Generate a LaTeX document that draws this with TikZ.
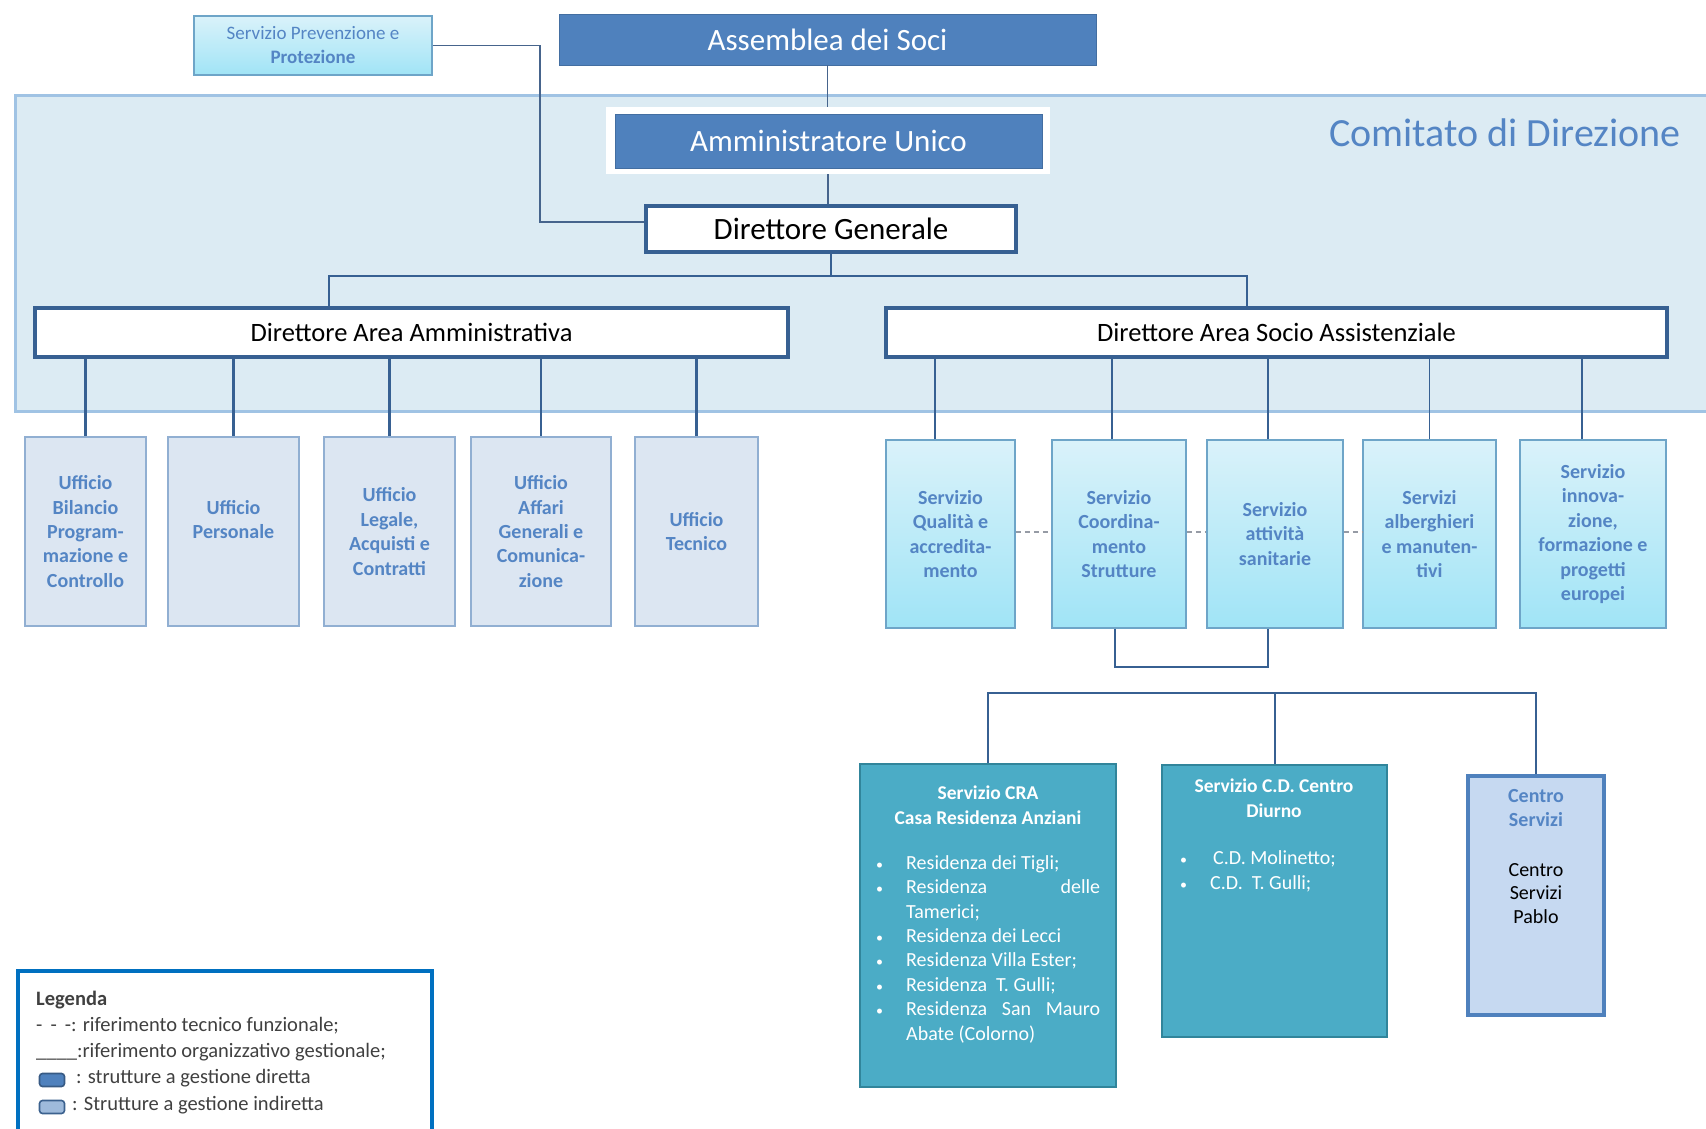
\documentclass[tikz,border=0pt]{standalone}
\usepackage{fontspec}
\setmainfont{Carlito}
\usetikzlibrary{calc}
\definecolor{conn}{RGB}{55,96,146}
\definecolor{thinc}{RGB}{70,100,140}
\definecolor{cdfill}{RGB}{220,235,243}
\definecolor{cdline}{RGB}{160,195,228}
\definecolor{dblue}{RGB}{79,129,189}
\definecolor{txtblue}{RGB}{84,133,196}
\definecolor{ufill}{RGB}{220,230,242}
\definecolor{uline}{RGB}{145,175,210}
\definecolor{svtop}{RGB}{218,242,250}
\definecolor{svbot}{RGB}{160,228,246}
\definecolor{svline}{RGB}{110,165,200}
\definecolor{crateal}{RGB}{75,172,198}
\definecolor{tealline}{RGB}{49,133,155}
\definecolor{csfill}{RGB}{198,217,241}
\definecolor{legline}{RGB}{0,112,192}
\definecolor{dashc}{RGB}{150,155,165}
\definecolor{legtxt}{RGB}{64,64,64}
\newcommand\myblt{\makebox[31pt][l]{\hspace{1pt}{\fontsize{14}{14}\selectfont\textbullet}}}
\newcommand\mybind{\hspace*{31pt}}
\tikzset{
  conn/.style={draw=conn,line width=2.4pt},
  thinconn/.style={draw=thinc,line width=1.5pt},
  topbox/.style={fill=dblue,draw=dblue!85!black,line width=0.8pt,text=white,inner sep=0pt,font=\fontsize{31}{36}\selectfont},
  whitebox/.style={fill=white,draw=conn,line width=3.4pt,inner sep=0pt},
  ufbox/.style={fill=ufill,draw=uline,line width=1.6pt,inner sep=0pt,text=txtblue,align=center,font=\bfseries\fontsize{20}{24.4}\selectfont,minimum height=189pt},
  svbox/.style={top color=svtop,bottom color=svbot,draw=svline,line width=1.6pt,inner sep=0pt,text=txtblue,align=center,font=\bfseries\fontsize{20}{24.4}\selectfont,minimum height=188pt},
  sppbox/.style={top color=svtop,bottom color=svbot,draw=svline,line width=1.6pt,inner sep=0pt,text=txtblue,align=center,font=\fontsize{19}{24}\selectfont},
  crabox/.style={fill=crateal,draw=tealline,line width=2.6pt,inner sep=0pt},
  csbox/.style={fill=csfill,draw=dblue,line width=3.6pt,inner sep=0pt},
  whitetxt/.style={text=white,inner sep=0pt,font=\fontsize{20}{24.4}\selectfont},
  legtext/.style={text=legtxt,inner sep=0pt,align=left,font=\fontsize{20.5}{26.2}\selectfont},
  legicon/.style={rounded corners=3pt,line width=1.6pt,minimum width=25pt,minimum height=13pt,inner sep=0pt},
  dashlink/.style={draw=dashc,line width=2.4pt,dash pattern=on 5pt off 4pt}
}
\begin{document}
\begin{tikzpicture}[x=1pt,y=-1pt]
\useasboundingbox (0,0) rectangle (1706,1129);
\fill[white] (0,0) rectangle (1706,1129);
% Comitato di Direzione area
\fill[cdfill] (15,96) rectangle (1715,411);
\draw[cdline,line width=3pt] (1715,96) -- (15,96) -- (15,411) -- (1715,411);
\node[font=\fontsize{40}{46}\selectfont,text=txtblue,anchor=east,inner sep=0pt] (comit) at (1681,133) {Comitato di Direzione};

% top nodes
\node[topbox,minimum width=537pt,minimum height=51pt] (ass) at (827.5,39.5) {Assemblea dei Soci};
\node[fill=white,minimum width=444pt,minimum height=67pt,inner sep=0pt] (auw) at (828,140.5) {};
\node[topbox,minimum width=427pt,minimum height=54pt] (au) at (828.5,141) {Amministratore Unico};
\node[whitebox,minimum width=370pt,minimum height=46pt,font=\fontsize{31}{36}\selectfont] (dg) at (831,229) {Direttore Generale};
\node[sppbox,minimum width=238pt,minimum height=59pt] (spp) at (313,45.5) {Servizio Prevenzione e\\\textbf{Protezione}};
\node[whitebox,minimum width=753pt,minimum height=49pt,font=\fontsize{26.5}{30}\selectfont] (daa) at (411.5,332.5) {Direttore Area Amministrativa};
\node[whitebox,minimum width=781pt,minimum height=49pt,font=\fontsize{26.5}{30}\selectfont] (dasa) at (1276.5,332.5) {Direttore Area Socio Assistenziale};

% top connectors
\draw[thinconn] (ass.south) -- (ass.south |- auw.north);
\draw[thinconn] (auw.south) -- (auw.south |- dg.north);
\draw[thinconn] (spp.east) -- ++(107,0) |- ([yshift=7pt]dg.west);
\draw[conn] (dg.south) -- ++(0,22) coordinate (busc);
\draw[conn] ([xshift=-82.5pt]daa.north) |- (busc) -| ([xshift=-29.5pt]dasa.north);

% Uffici
\node[ufbox,minimum width=121pt] (u1) at (85.5,531.5) {Ufficio\\Bilancio\\Program-\\mazione e\\Controllo};
\node[ufbox,minimum width=131pt] (u2) at (233.5,531.5) {Ufficio\\Personale\\\mbox{}};
\node[ufbox,minimum width=131pt] (u3) at (389.5,531.5) {Ufficio\\Legale,\\Acquisti e\\Contratti};
\node[ufbox,minimum width=140pt] (u4) at (541,531.5) {Ufficio\\Affari\\Generali e\\Comunica-\\zione};
\node[ufbox,minimum width=123pt] (u5) at (696.5,531.5) {Ufficio\\Tecnico};
\foreach \u in {u1,u2,u3,u4,u5}{
  \draw[conn] (\u.north |- daa.south) -- (\u.north);
}

% Servizi
\node[svbox,minimum width=129pt] (s1) at (950.5,534) {Servizio\\Qualità e\\accredita-\\mento};
\node[svbox,minimum width=134pt] (s2) at (1119,534) {Servizio\\Coordina-\\mento\\Strutture};
\node[svbox,minimum width=136pt] (s3) at (1275,534) {Servizio\\attività\\sanitarie};
\node[svbox,minimum width=133pt] (s4) at (1429.5,534) {Servizi\\alberghieri\\e manuten-\\tivi};
\node[svbox,minimum width=146pt] (s5) at (1593,534) {Servizio\\innova-\\zione,\\formazione e\\progetti\\europei};
\draw[conn] ([xshift=-15.5pt]s1.north) -- ([xshift=-15.5pt]s1.north |- dasa.south);
\draw[conn,line width=1.6pt] ([xshift=-7pt]s2.north) -- ([xshift=-7pt]s2.north |- dasa.south);
\draw[conn] ([xshift=-7pt]s3.north) -- ([xshift=-7pt]s3.north |- dasa.south);
\draw[conn,line width=1.6pt] (s4.north) -- (s4.north |- dasa.south);
\draw[conn] ([xshift=-11pt]s5.north) -- ([xshift=-11pt]s5.north |- dasa.south);
\draw[dashlink] ([yshift=2pt]s1.east) -- ([yshift=2pt]s2.west);
\draw[dashlink] ([yshift=2pt]s2.east) -- ([yshift=2pt]s3.west);
\draw[dashlink] ([yshift=2pt]s3.east) -- ([yshift=2pt]s4.west);
\draw[conn,line width=2pt] ([xshift=-4pt]s2.south) -- ++(0,38) -| ([xshift=-7pt]s3.south);

% lower structures
\node[crabox,minimum width=256pt,minimum height=323pt] (cra) at (988,925.5) {};
\node[crabox,minimum width=225pt,minimum height=272pt] (cd) at (1274.5,901) {};
\node[csbox,minimum width=136pt,minimum height=239pt] (cs) at (1536,895.5) {};
\coordinate (lbus) at ($(cd.north)+(0,-71)$);
\draw[conn,line width=2pt] (cra.north) |- (lbus) -| (cs.north);
\draw[conn,line width=2pt] (lbus) -- (cd.north);

\node[whitetxt,align=center,font=\bfseries\fontsize{19.5}{25}\selectfont] (crat) at (988,805.5) {Servizio CRA\\Casa Residenza Anziani};
\node[whitetxt,align=left,anchor=base west] (cral) at (875,1040) {\myblt Residenza dei Tigli;\\
\myblt\makebox[194pt][s]{Residenza delle}\\
\mybind Tamerici;\\
\myblt Residenza dei Lecci\\
\myblt Residenza Villa Ester;\\
\myblt Residenza\ \ T. Gulli;\\
\myblt\makebox[194pt][s]{Residenza San Mauro}\\
\mybind Abate (Colorno)};

\node[whitetxt,align=center,font=\bfseries\fontsize{19.5}{25}\selectfont] (cdt) at (1274,798.5) {Servizio C.D. Centro\\Diurno};
\node[whitetxt,align=left,anchor=base west] (cdl) at (1179,889) {\myblt\hspace{3pt}C.D. Molinetto;\\
\myblt C.D.\ \ T. Gulli;};

\node[text=txtblue,align=center,inner sep=0pt,font=\bfseries\fontsize{20}{24}\selectfont] (cst) at (1536,808) {Centro\\Servizi};
\node[text=black,align=center,inner sep=0pt,font=\fontsize{20}{23.5}\selectfont] (csl) at (1536,893.5) {Centro\\Servizi\\Pablo};

% legend
\draw[legline,line width=3.5pt] (18,1140) -- (18,971) -- (432,971) -- (432,1140);
\node[legtext,anchor=base west] (legt) at (36,1110) {\textbf{Legenda}\\
- \,- \,-: riferimento tecnico funzionale;\\
\_\_\_\_:riferimento organizzativo gestionale;\\
\hspace*{40pt}: strutture a gestione diretta\\
\hspace*{36pt}: Strutture a gestione indiretta};
\node[legicon,fill=dblue,draw=dblue!70!black] (ic1) at (52,1080) {};
\node[legicon,fill=dblue!55,draw=dblue!75!black] (ic2) at (52,1107) {};
\end{tikzpicture}
\end{document}
